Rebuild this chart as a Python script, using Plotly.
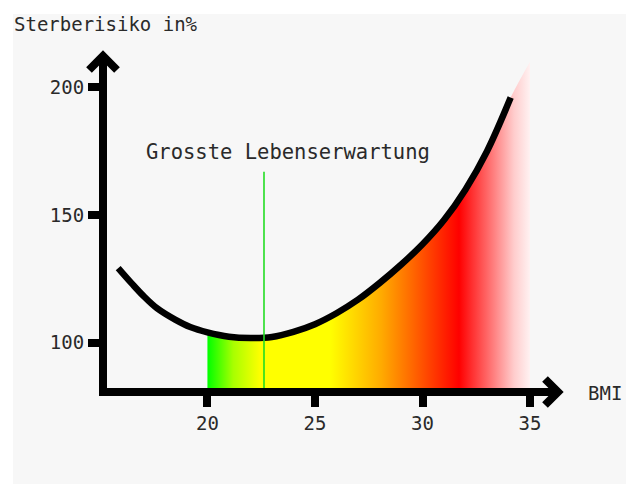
import plotly.graph_objects as go

# ---- data ----
bmi = [15.85, 16.5, 17, 17.65, 18.5, 19.2, 20, 21, 22, 23, 24, 25, 26, 27, 28, 29, 30, 31, 32, 33, 34.1]
risk = [129.2, 123, 118.5, 113.5, 109, 106.1, 104, 102.3, 101.8, 102.2, 104.2, 107.2, 111.5, 116.8, 123.3, 130.5, 138.5, 148, 160, 175, 196]

# gradient area: from BMI 20 under the curve, continued to BMI 35
fill_bmi = [b for b in bmi if b >= 20] + [35]
fill_risk = [r for b, r in zip(bmi, risk) if b >= 20] + [210]

best_bmi = 22.63          # vertical green marker
best_top = 166.9
best_label = "Grosste Lebenserwartung"

x_ticks = [20, 25, 30, 35]
y_ticks = [100, 150, 200]
x_range = [15.33, 36.3]
y_range = [82.2, 212.3]

y_title = "Sterberisiko in%"
x_title = "BMI"

# ---- figure ----
W, H = 626, 484
L, R, T, B = 107, 68, 56, 96
pw, ph = W - L - R, H - T - B

def px(xp):
    return (xp - L) / pw

def py(yp):
    return (H - B - yp) / ph

FONT = "DejaVu Sans Mono"
TXT = "#2a2a2a"

fig = go.Figure()

fig.add_trace(go.Scatter(
    x=fill_bmi, y=fill_risk, mode="lines", line=dict(width=0, shape="spline"),
    fill="tozeroy",
    fillgradient=dict(
        type="horizontal", start=20, stop=35,
        colorscale=[
            [0.0, "#00ff00"],
            [0.08, "#a8ff00"],
            [0.165, "#ffff00"],
            [0.38, "#ffff00"],
            [0.54, "#ffaa00"],
            [0.64, "#ff6400"],
            [0.78, "#ff0000"],
            [0.87, "#ff6a6a"],
            [0.95, "#ffcccc"],
            [1.0, "#fff2f2"],
        ],
    ),
    hoverinfo="skip", showlegend=False,
))

fig.add_trace(go.Scatter(
    x=bmi, y=risk, mode="lines",
    line=dict(color="black", width=6.5, shape="spline"),
    showlegend=False,
))

fig.add_trace(go.Scatter(
    x=[best_bmi, best_bmi], y=[y_range[0] - 5, best_top], mode="lines",
    line=dict(color="#22dd22", width=1.6),
    showlegend=False,
))

shapes = [
    # light grey panel
    dict(type="rect", xref="paper", yref="paper",
         x0=px(13), x1=px(626), y0=py(484), y1=py(14),
         fillcolor="#f7f7f7", line=dict(width=0), layer="below"),
    # y-axis arrow head
    dict(type="path", xref="paper", yref="paper",
         xsizemode="pixel", ysizemode="pixel", xanchor=0, yanchor=1,
         path="M -18,-14 L -4,0 L 10,-14",
         line=dict(color="black", width=8)),
    # x-axis arrow head
    dict(type="path", xref="paper", yref="paper",
         xsizemode="pixel", ysizemode="pixel", xanchor=1, yanchor=0,
         path="M -13,9 L 0,-4 L -13,-17",
         line=dict(color="black", width=8)),
]

annotations = [
    dict(text=y_title, xref="paper", yref="paper", x=px(12), y=py(24),
         xanchor="left", yanchor="middle", showarrow=False,
         font=dict(family=FONT, size=19, color=TXT)),
    dict(text=x_title, xref="paper", yref="paper", x=px(586), y=py(393),
         xanchor="left", yanchor="middle", showarrow=False,
         font=dict(family=FONT, size=19, color=TXT)),
    dict(text=best_label, x=23.75, y=174.7, xanchor="center", yanchor="middle",
         showarrow=False, font=dict(family=FONT, size=20.5, color=TXT)),
]

axis_common = dict(
    showline=True, linecolor="black", linewidth=8,
    ticks="outside", tickcolor="black", tickwidth=8, ticklen=11,
    showgrid=False, zeroline=False,
    tickfont=dict(family=FONT, size=19, color=TXT),
    fixedrange=True,
)

fig.update_layout(
    width=W, height=H,
    margin=dict(l=L, r=R, t=T, b=B, pad=0),
    paper_bgcolor="white",
    plot_bgcolor="rgba(0,0,0,0)",
    xaxis=dict(range=x_range, tickvals=x_ticks, **axis_common),
    yaxis=dict(range=y_range, tickvals=y_ticks, **axis_common),
    shapes=shapes,
    annotations=annotations,
    showlegend=False,
)

fig.write_html(
    "out.html",
    config={"displayModeBar": False},
    post_script="document.body.style.margin='0';document.body.style.padding='0';document.body.style.overflow='hidden';",
)
